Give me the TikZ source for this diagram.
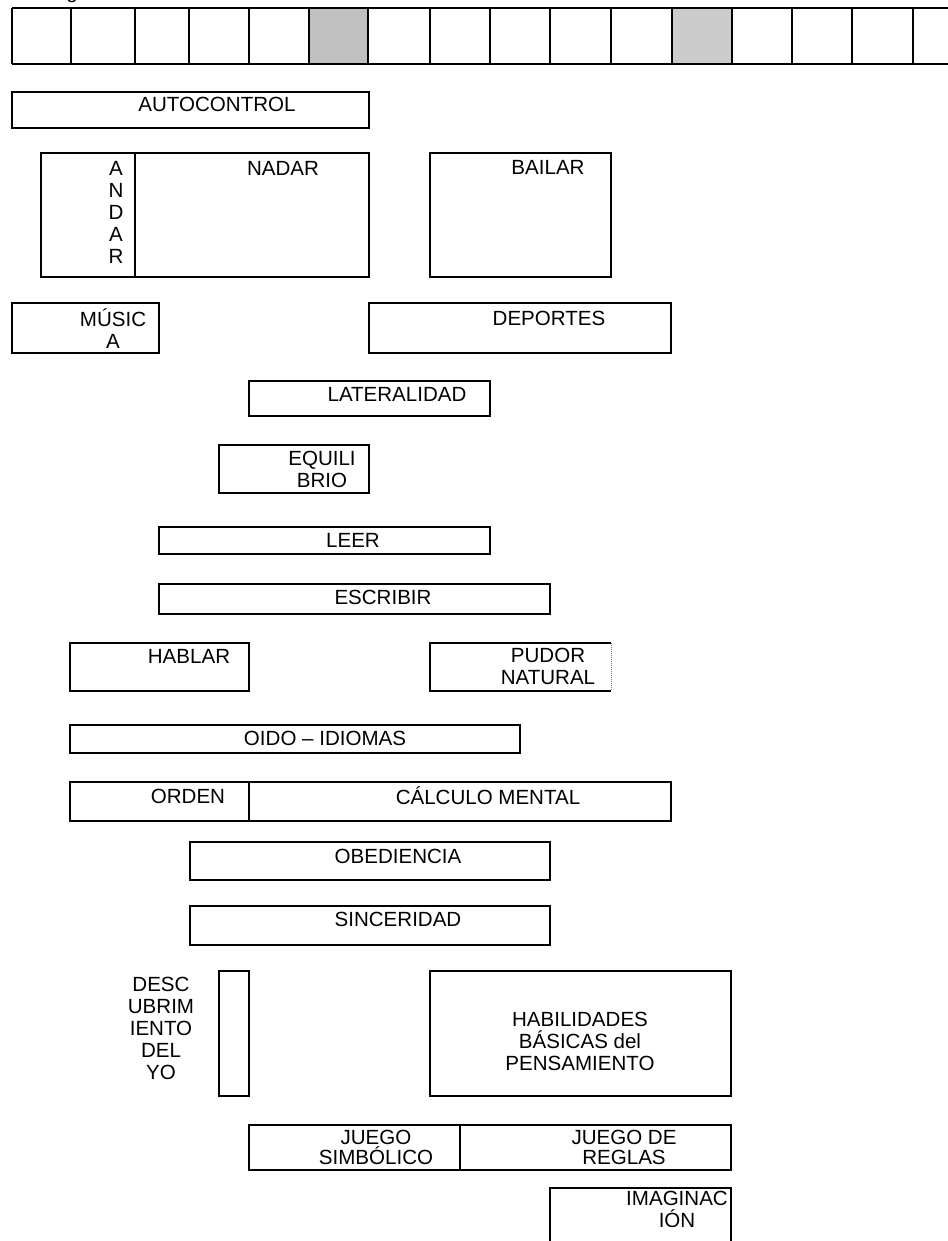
\documentclass[tikz,border=0pt]{standalone}
\usepackage{fontspec}
\setmainfont{Liberation Sans}
\definecolor{cellgray}{RGB}{192,192,192}
\definecolor{cellgrayb}{RGB}{204,204,204}
\tikzset{
  box/.style={line width=1.9pt},
  lbl/.style={font=\fontsize{15.4}{16.5}\selectfont, inner sep=0pt, align=center},
  tightlbl/.style={lbl, font=\fontsize{15.4}{15}\selectfont},
}

\begin{document}
\begin{tikzpicture}[x=0.75pt,y=-0.75pt]
\useasboundingbox (0,0) rectangle (947,1241);

% cut-off text above the strip
\node[lbl,anchor=base] (topg) at (72,-1.5) {g};

% strip of cells
\fill[cellgray] (309,8) rectangle (368,64);
\fill[cellgrayb] (672,8) rectangle (732,64);
\draw[box] (12,8) -- (960,8);
\draw[box] (12,64) -- (960,64);
\foreach \cx in {12,71,135,189,249,309,368,430,490,550,611,672,732,792,852,913}
  \draw[box] (\cx,8) -- (\cx,64);

% boxes
\draw[box] (12,92) rectangle (369,128);
\draw[box] (41,153) rectangle (369,277);
\draw[box] (135,153) -- (135,277);
\draw[box] (430,153) rectangle (611,277);
\draw[box] (12,303) rectangle (159,353);
\draw[box] (369,303) rectangle (671,353);
\draw[box] (249,381) rectangle (490,416);
\draw[box] (219,445) rectangle (369,493);
\draw[box] (159,527) rectangle (490,554);
\draw[box] (159,584) rectangle (550,614);
\draw[box] (70,643) rectangle (249,691);
\draw[box] (611,691) -- (430,691) -- (430,643) -- (611,643);
\draw[line width=0.5pt,densely dotted,gray] (611,643) -- (611,691);
\draw[box] (70,725) rectangle (520,753);
\draw[box] (70,782) rectangle (671,821);
\draw[box] (249,782) -- (249,821);
\draw[box] (190,842) rectangle (550,880);
\draw[box] (190,906) rectangle (550,945);
\draw[box] (219,971) rectangle (249,1096);
\draw[box] (430,971) rectangle (731,1096);
\draw[box] (249,1125) rectangle (731,1170);
\draw[box] (460,1125) -- (460,1170);
\draw[box] (550,1260) -- (550,1188) -- (731,1188) -- (731,1260);

% labels
\node[lbl] (autocontrol) at (217,104) {AUTOCONTROL};
\node[lbl] (andar) at (116,212) {A\\N\\D\\A\\R};
\node[lbl] (nadar) at (283,168) {NADAR};
\node[lbl] (bailar) at (548,167) {BAILAR};
\node[lbl] (musica) at (113,329) {MÚSIC\\A};
\node[lbl] (deportes) at (549,318) {DEPORTES};
\node[lbl] (lateralidad) at (397,394) {LATERALIDAD};
\node[lbl] (equilibrio) at (322,469) {EQUILI\\BRIO};
\node[lbl] (leer) at (353,540) {LEER};
\node[lbl] (escribir) at (383,597) {ESCRIBIR};
\node[lbl] (hablar) at (189,656) {HABLAR};
\node[lbl] (pudor) at (548,666) {PUDOR\\NATURAL};
\node[lbl] (oido) at (325,738) {OIDO -- IDIOMAS};
\node[lbl] (orden) at (188,796) {ORDEN};
\node[lbl] (calculo) at (488,796) {CÁLCULO MENTAL};
\node[lbl] (obediencia) at (398,856) {OBEDIENCIA};
\node[lbl] (sinceridad) at (398,919) {SINCERIDAD};
\node[lbl] (descubrimiento) at (161,1028) {DESC\\UBRIM\\IENTO\\DEL\\YO};
\node[lbl] (habilidades) at (580,1041) {HABILIDADES\\BÁSICAS del\\PENSAMIENTO};
\node[tightlbl] (simbolico) at (376,1147) {JUEGO\\SIMBÓLICO};
\node[tightlbl] (reglas) at (624,1147) {JUEGO DE\\REGLAS};
\node[lbl] (imaginacion) at (677,1209) {IMAGINAC\\IÓN};
\end{tikzpicture}
\end{document}
